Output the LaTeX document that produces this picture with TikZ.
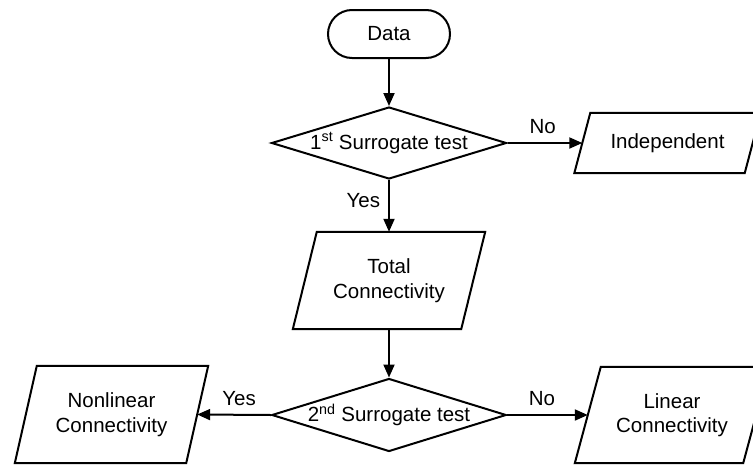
\documentclass[tikz,border=0pt]{standalone}
\usepackage{fontspec}
\setmainfont{Liberation Sans}
\usetikzlibrary{shapes.geometric,arrows.meta}
\newcommand{\drawpara}[2]{\draw[shapeline] ([xshift=#2]#1.north west) -- ([xshift=#2]#1.north east) -- ([xshift=-#2]#1.south east) -- ([xshift=-#2]#1.south west) -- cycle;}
\begin{document}
\begin{tikzpicture}[x=1pt,y=-1pt,
  every node/.style={font=\fontsize{20.5}{24.5}\selectfont},
  shapeline/.style={line width=2pt,line join=miter},
  terminal/.style={draw,shapeline,rectangle,rounded corners=24pt,minimum width=122pt,minimum height=48pt,inner sep=0pt},
  decision/.style={draw,shapeline,diamond,aspect=3.25,inner sep=0pt},
  iobox/.style={rectangle,align=center,inner sep=0pt},
  conn/.style={line width=2pt,-{Triangle[length=13pt,width=11pt]}},
  lbl/.style={inner sep=0pt}
]
\useasboundingbox (0,0) rectangle (753,466);
\node[terminal] (data) at (389,34) {Data};
\node[decision,minimum width=235pt,minimum height=72pt] (d1) at (389,143) {1\textsuperscript{st} Surrogate test};
\node[iobox,minimum width=170pt,minimum height=60pt] (ind) at (667.5,143) {Independent};
\drawpara{ind}{8pt}
\node[iobox,minimum width=168pt,minimum height=97pt] (tot) at (389,280.5) {Total\\Connectivity};
\drawpara{tot}{12pt}
\node[decision,minimum width=233pt,minimum height=73pt] (d2) at (389,415) {2\textsuperscript{nd} Surrogate test};
\node[iobox,minimum width=171pt,minimum height=97pt] (nl) at (111.5,414.5) {Nonlinear\\Connectivity};
\drawpara{nl}{11pt}
\node[iobox,minimum width=168pt,minimum height=96pt] (lin) at (672,415) {Linear\\Connectivity};
\drawpara{lin}{13pt}
\draw[conn] (data.south) -- (d1.north);
\draw[conn] (d1.east) -- (ind.west) node[lbl,pos=0.47,above=8pt] (no1) {No};
\draw[conn] (d1.south) -- (tot.north) node[lbl,pos=0.4,left=8pt] (yes1) {Yes};
\draw[conn] (tot.south) -- (d2.north);
\draw[conn] (d2.west) -- (nl.east) node[lbl,pos=0.43,above=8pt] (yes2) {Yes};
\draw[conn] (d2.east) -- (lin.west) node[lbl,pos=0.43,above=8pt] (no2) {No};
\end{tikzpicture}
\end{document}
